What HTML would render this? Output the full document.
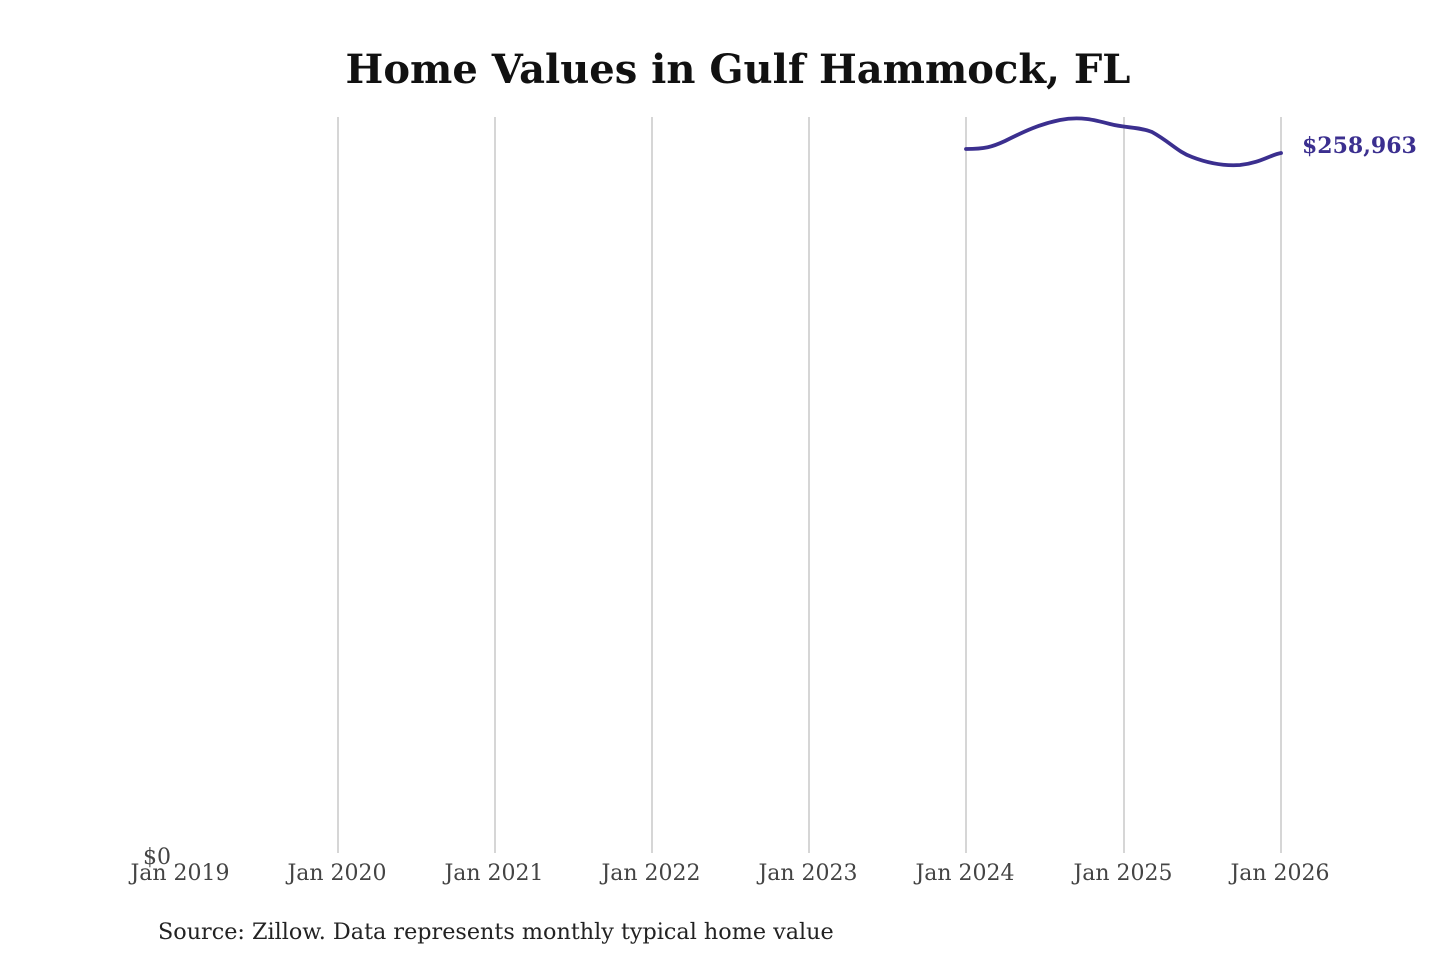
<!DOCTYPE html>
<html><head><style>body{margin:0;background:#fff}</style></head><body>
<svg width="1440" height="960" xmlns="http://www.w3.org/2000/svg" style="display:block">
<rect width="1440" height="960" fill="#fff"/>
<text x="738" y="83" text-anchor="middle" font-family="DejaVu Serif, Liberation Serif, serif" font-weight="bold" font-size="40" fill="#111">Home Values in Gulf Hammock, FL</text>
<g stroke="#bbb" stroke-width="1.2">
<line x1="338" y1="117" x2="338" y2="853"/><line x1="495" y1="117" x2="495" y2="853"/>
<line x1="652" y1="117" x2="652" y2="853"/><line x1="809" y1="117" x2="809" y2="853"/>
<line x1="966" y1="117" x2="966" y2="853"/><line x1="1124" y1="117" x2="1124" y2="853"/>
<line x1="1281" y1="117" x2="1281" y2="853"/>
</g>
<path d="M966,149 C985,149 992,147 1005,141 C1025,131 1040,124 1060,120 C1080,116 1095,120 1110,124 C1125,128 1140,127 1152,132 C1170,142 1178,152 1192,157 C1210,164 1225,166 1240,165 C1260,163 1270,155 1281,153" fill="none" stroke="#3b2f8f" stroke-width="3.8" stroke-linecap="round"/>
<text x="1302" y="153" font-family="DejaVu Serif, Liberation Serif, serif" font-weight="bold" font-size="22" fill="#3b2f8f">$258,963</text>
<g font-family="DejaVu Serif, Liberation Serif, serif" font-size="22" fill="#444" text-anchor="middle">
<text x="157" y="864">$0</text>
<text x="180" y="880">Jan 2019</text><text x="337" y="880">Jan 2020</text>
<text x="494" y="880">Jan 2021</text><text x="651" y="880">Jan 2022</text>
<text x="808" y="880">Jan 2023</text><text x="965" y="880">Jan 2024</text>
<text x="1123" y="880">Jan 2025</text><text x="1280" y="880">Jan 2026</text>
</g>
<text x="158" y="939" font-family="DejaVu Serif, Liberation Serif, serif" font-size="22.3" fill="#222">Source: Zillow. Data represents monthly typical home value</text>
</svg>
</body></html>
